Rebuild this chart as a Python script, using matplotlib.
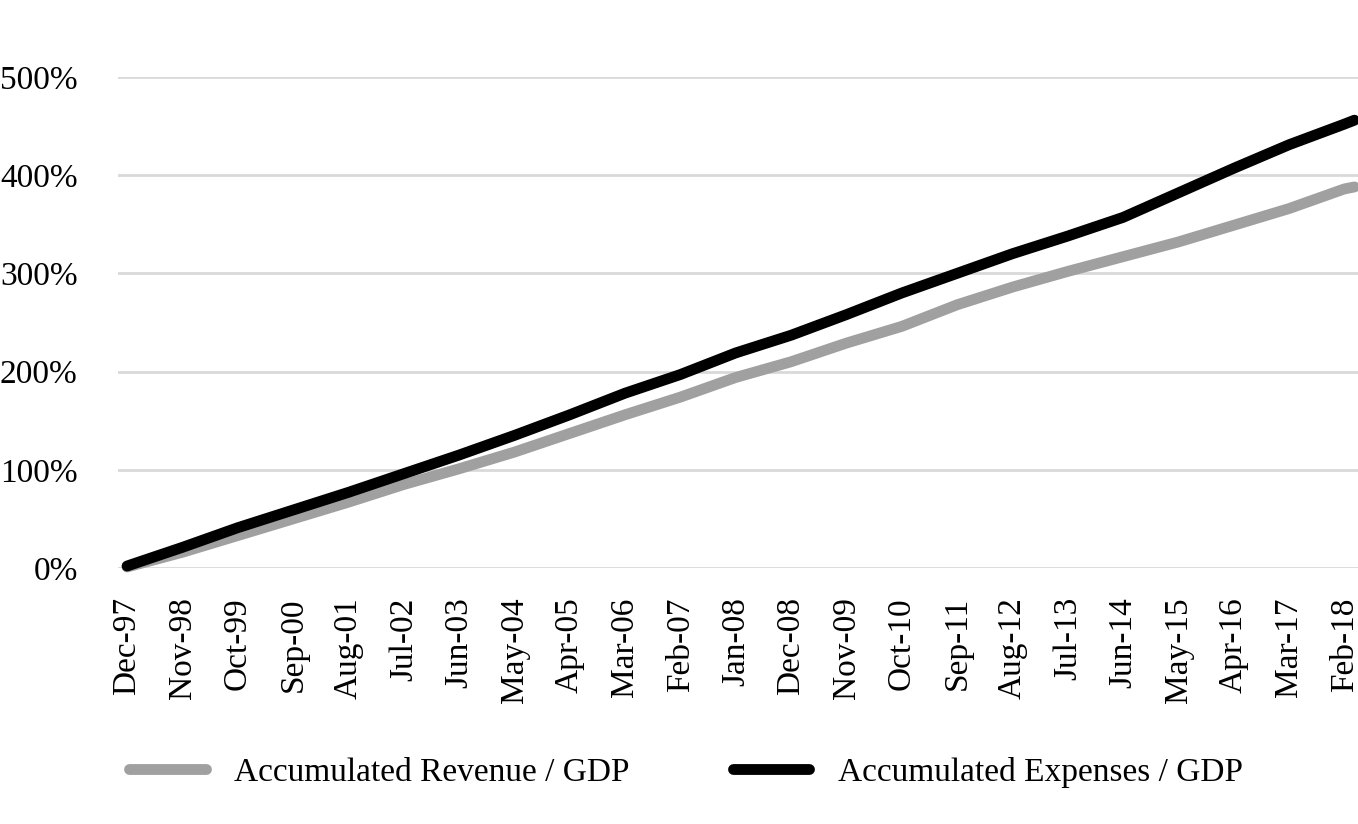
import matplotlib
matplotlib.use("Agg")
import matplotlib.pyplot as plt
import pandas as pd

# points, month labels as on the axis (last one = end of data)
dates = ["Dec-97", "Nov-98", "Oct-99", "Sep-00", "Aug-01", "Jul-02", "Jun-03",
         "May-04", "Apr-05", "Mar-06", "Feb-07", "Jan-08", "Dec-08", "Nov-09",
         "Oct-10", "Sep-11", "Aug-12", "Jul-13", "Jun-14", "May-15", "Apr-16",
         "Mar-17", "Feb-18", "Apr-18"]
revenue = [1, 16, 33, 50, 67, 85, 101, 118, 137, 156, 174, 194, 210, 229,
           246, 268, 286, 302, 317, 332, 349, 366, 386, 388]
expenses = [2, 21, 41, 59, 77, 96, 115, 135, 156, 178, 197, 219, 237, 258,
            280, 300, 320, 338, 357, 382, 407, 431, 452, 456]
yticks = [0, 100, 200, 300, 400, 500]

d = pd.to_datetime(dates, format="%b-%y")
x = (d.year - 1997) * 12 + d.month - 12     # months since Dec-97

plt.rcParams["font.family"] = ["Liberation Serif", "DejaVu Serif"]

fig = plt.figure(figsize=(13.58, 8.24), dpi=100)
ax = fig.add_axes([0.0869, 0.3107, 0.9131, 0.5959])

ax.plot(x, revenue, color="#A0A0A0", lw=7.8, solid_capstyle="round",
        clip_on=False, label="Accumulated Revenue / GDP")
ax.plot(x, expenses, color="black", lw=7.8, solid_capstyle="round",
        clip_on=False, label="Accumulated Expenses / GDP")

ax.set_xlim(-1.8, 244.7)
ax.set_ylim(0, 500)
ax.set_yticks(yticks)
ax.set_yticklabels([str(v) + "%" for v in yticks], fontsize=24)
ax.set_xticks(x[:-1])
ax.set_xticklabels(dates[:-1], rotation=90, fontsize=24)
ax.tick_params(axis="y", length=0, pad=29)
ax.tick_params(axis="x", length=0, pad=21)

ax.grid(axis="y", color="#D9D9D9", lw=2)
ax.set_axisbelow(True)
for s in ax.spines.values():
    s.set_visible(False)

fig.legend(loc="center", bbox_to_anchor=(0.505, 0.063), ncol=2, frameon=False,
           fontsize=24, handlelength=2.3, handletextpad=0.85, columnspacing=3.1)

fig.savefig("out.png", dpi=100)
